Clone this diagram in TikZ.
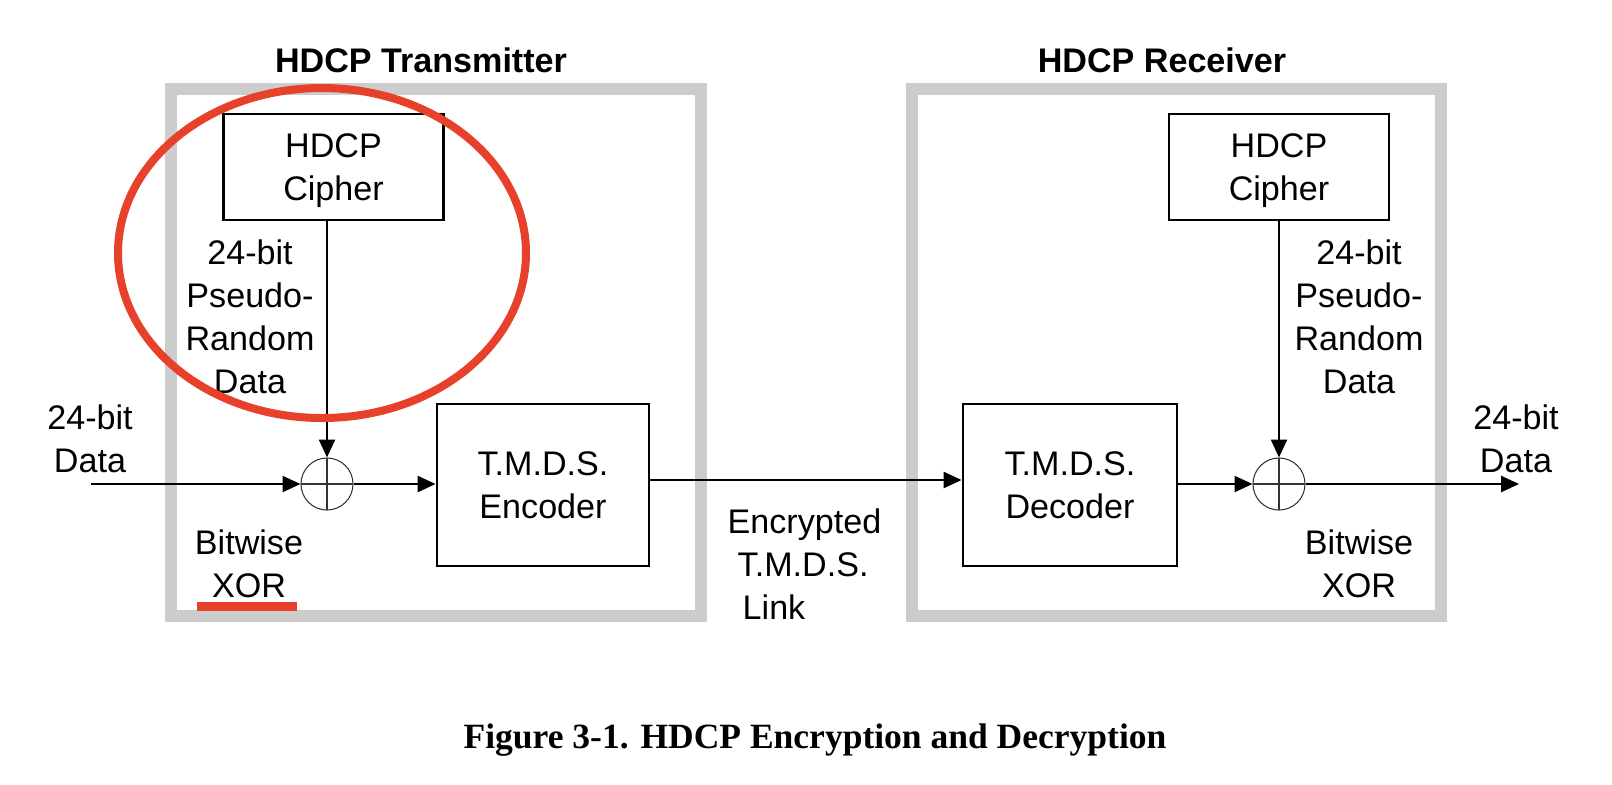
\documentclass[tikz,border=0pt]{standalone}
\usepackage{fontspec}
\setmainfont{Liberation Sans}
\newfontfamily\captionfont{Liberation Serif}
\usepackage{tikz}
\usetikzlibrary{positioning, arrows.meta}
\definecolor{framegray}{HTML}{CCCCCC}
\definecolor{markred}{HTML}{E8412B}
\newcommand{\labelfont}{\fontsize{9.7}{12.2}\selectfont}

\begin{document}
\begin{tikzpicture}[x=0.01cm, y=-0.01cm, unitframe/.style={draw=framegray, line width=0.12cm, minimum width=#1, minimum height=5.27cm, inner sep=0}, block/.style={draw, line width=0.8pt, minimum width=#1, align=center, font=\labelfont, inner sep=0}, xorgate/.style={circle, draw=black!80, line width=0.3pt, minimum size=0.52cm, inner sep=0, path picture={\draw[line width=0.5pt] (path picture bounding box.north) -- (path picture bounding box.south) (path picture bounding box.west) -- (path picture bounding box.east);}}, lbl/.style={align=center, font=\labelfont, inner sep=0}, unittitle/.style={font=\fontsize{9.7}{12}\selectfont\bfseries, inner sep=0, anchor=base}, wire/.style={line width=0.5pt, -{Triangle[length=5.1pt, width=4.6pt]}}]

\useasboundingbox (0,0) rectangle (1612,784);

% Units

\node [unitframe=5.30cm] (txframe) at (436,352.5) {};
\node [unitframe=5.29cm] (rxframe) at (1176.5,352.5) {};
\node [unittitle] (txtitle) at (421,72) {HDCP Transmitter};
\node [unittitle] (rxtitle) at (1162,72) {HDCP Receiver};

% Blocks

\node [block=2.20cm, minimum height=1.06cm, text depth=-0.04cm] (txcipher) at (333.5,167) {HDCP\\Cipher};
\node [block=2.12cm, minimum height=1.62cm] (encoder) at (543,485) {T.M.D.S.\\Encoder};
\node [block=2.14cm, minimum height=1.62cm] (decoder) at (1070,485) {T.M.D.S.\\Decoder};
\node [block=2.20cm, minimum height=1.06cm, text depth=-0.04cm] (rxcipher) at (1279,167) {HDCP\\Cipher};
\node [xorgate] (txxor) at (327,484) {};
\node [xorgate] (rxxor) at (1279,484) {};
\coordinate (datain) at (91,484);
\coordinate (dataout) at (1519,484);

% Labels

\node [lbl] (txprng) at (250,317) {24-bit\\Pseudo-\\Random\\Data};
\node [lbl] (rxprng) at (1359,317) {24-bit\\Pseudo-\\Random\\Data};
\node [lbl] (txbitwise) at (249,564) {Bitwise\\XOR};
\node [lbl] (rxbitwise) at (1359,564) {Bitwise\\XOR};
\node [lbl] (datainlabel) at (90,439) {24-bit\\Data};
\node [lbl] (dataoutlabel) at (1516,439) {24-bit\\Data};
\node [lbl, align=left, anchor=west] (linklabel) at (727,564) {Encrypted\\\hspace*{0.1cm}T.M.D.S.\\\hspace*{0.15cm}Link};
\node [font=\captionfont\bfseries\fontsize{10.1}{12}\selectfont, inner sep=0, anchor=base] (caption) at (815,748) {Figure 3-1. HDCP Encryption and Decryption};

% Signals

\draw[wire] (datain) -- (txxor);
\draw[wire] (txcipher.south -| txxor) -- (txxor);
\draw[wire] (txxor) -- (txxor -| encoder.west);
\draw[wire] ([yshift=0.05cm]encoder.east) -- ([yshift=0.05cm]decoder.west);
\draw[wire] (decoder.east |- rxxor) -- (rxxor);
\draw[wire] (rxcipher) -- (rxxor);
\draw[wire] (rxxor) -- (dataout);

% Marks

\draw[markred, line width=0.08cm] (322,253) ellipse [x radius=204, y radius=165];
\draw[markred, line width=0.09cm] (197,606) -- (297,606);

\end{tikzpicture}
\end{document}
